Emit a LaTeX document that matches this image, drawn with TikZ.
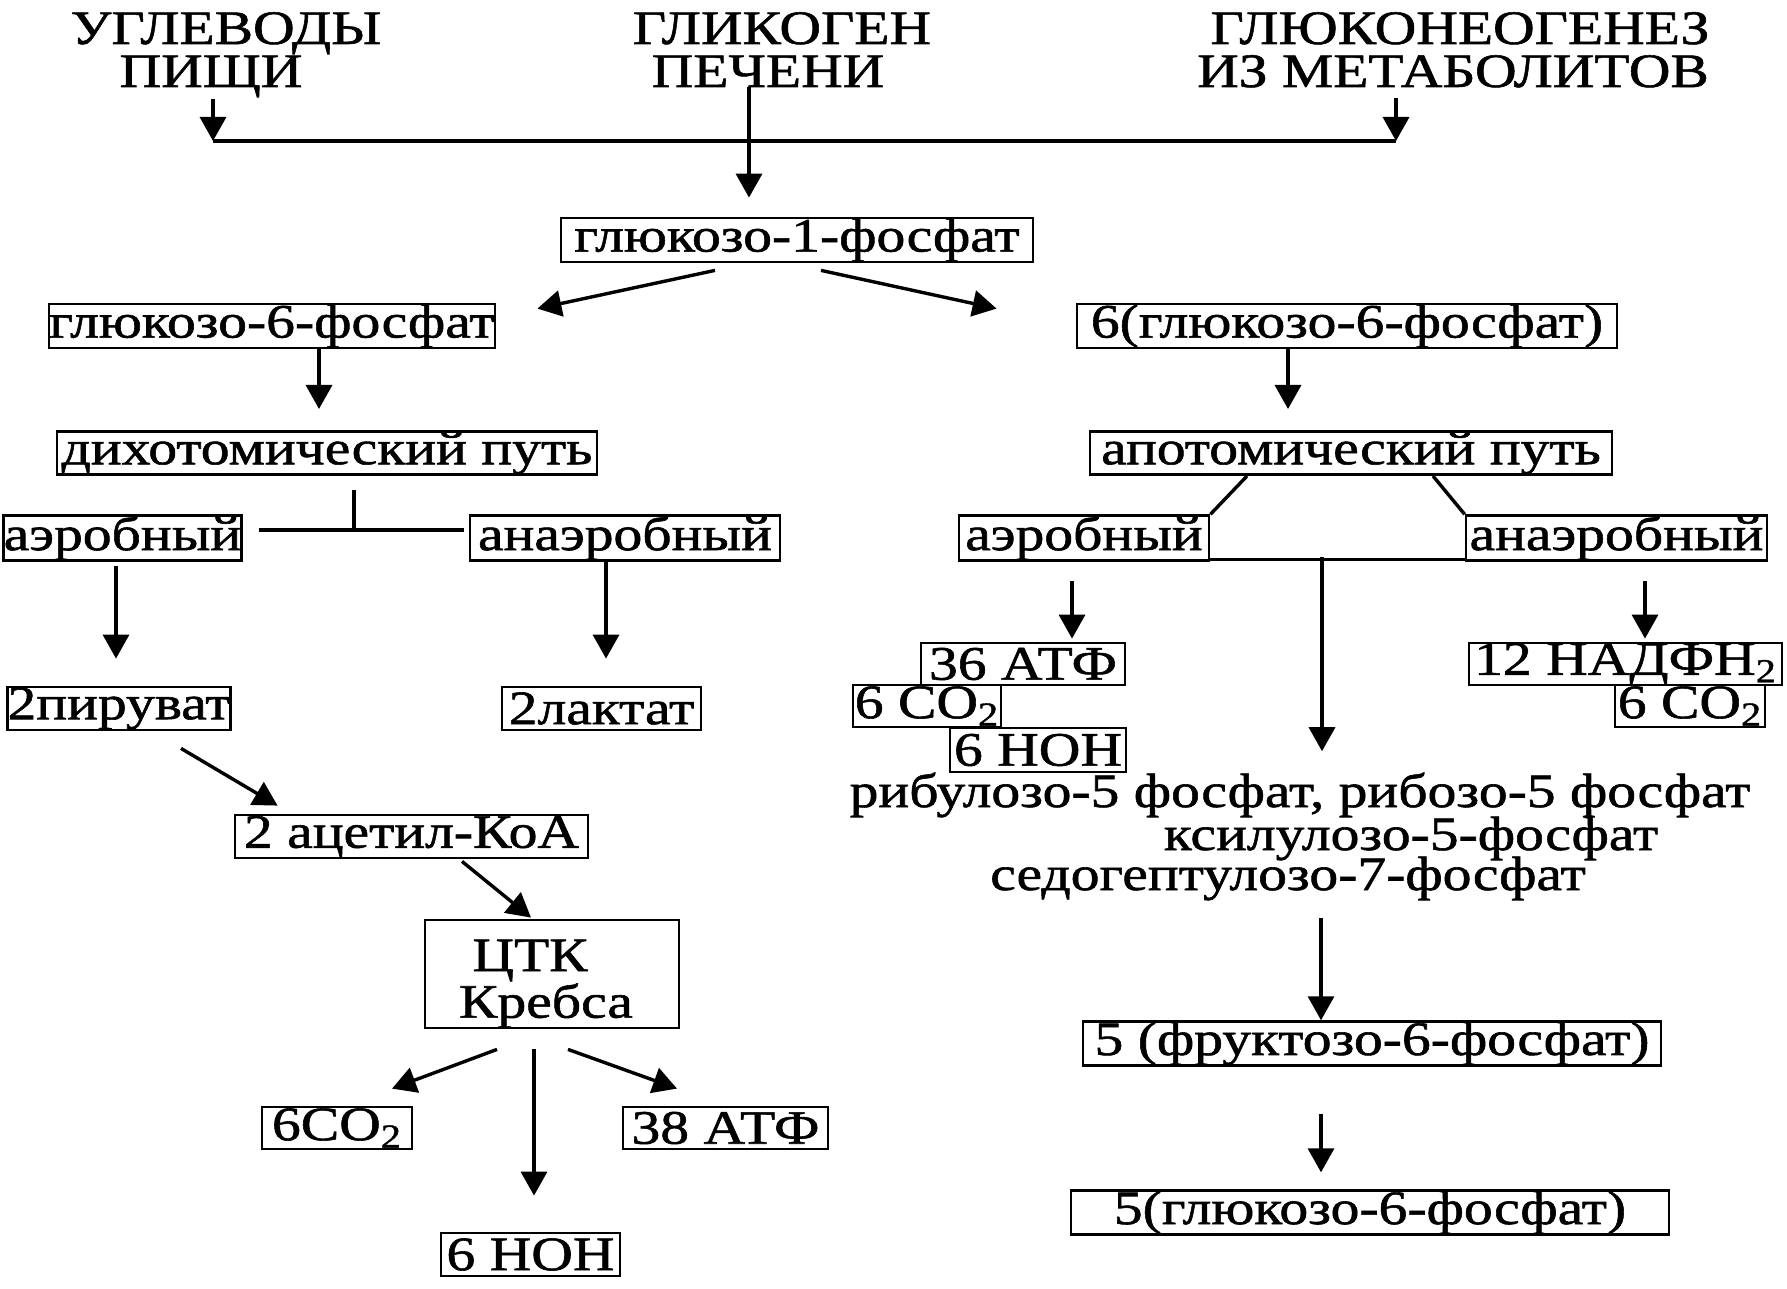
\documentclass[tikz,border=0pt]{standalone}
\usepackage{fontspec}
\setmainfont[FakeStretch=1.2,FakeBold=1.2]{Liberation Serif}
\usetikzlibrary{arrows.meta,calc}
\begin{document}
\begin{tikzpicture}[x=0.5pt,y=-0.5pt,
  every node/.append style={font=\fontsize{24}{25}\selectfont},
  txt/.style={inner sep=0pt, anchor=base},
  bx/.style={draw, line width=1.4pt, inner sep=0pt, align=center},
  ln/.style={line width=1.7pt},
  arr/.style={line width=1.7pt, -{Triangle[width=13pt,length=12pt]}}]
\useasboundingbox (0,0) rectangle (1787,1289);
% header
\node[txt] (h1a) at (226,44) {УГЛЕВОДЫ};
\node[txt] (h1b) at (211,87) {ПИЩИ};
\node[txt] (h2a) at (782,44) {ГЛИКОГЕН};
\node[txt] (h2b) at (768,87) {ПЕЧЕНИ};
\node[txt] (h3a) at (1460,44) {ГЛЮКОНЕОГЕНЕЗ};
\node[txt] (h3b) at (1453,87) {ИЗ МЕТАБОЛИТОВ};
% boxes
\node[bx, minimum width=236pt, minimum height=22pt] (g1p) at (797,240) {глюкозо-1-фосфат};
\node[bx, minimum width=223pt, minimum height=22pt] (g6pL) at (272,326) {глюкозо-6-фосфат};
\node[bx, minimum width=270pt, minimum height=21pt] (dich) at (327,453) {дихотомический путь};
\node[bx, minimum width=108.5pt, minimum height=21pt] (aerL) at (122.5,538) {аэробный};
\node[bx, minimum width=155pt, minimum height=21pt] (anaerL) at (625,538) {анаэробный};
\node[bx, minimum width=102pt, minimum height=21.5pt] (pyr) at (119,708.5) {2пируват};
\node[bx, minimum width=99.5pt, minimum height=21.5pt] (lac) at (601.5,708.5) {2лактат};
\node[bx, minimum width=176.5pt, minimum height=21.5pt] (acoa) at (411.5,836.5) {2 ацетил-КоА};
\node[bx, minimum width=127pt, minimum height=54pt, font=\fontsize{24}{20.5}\selectfont] (tca) at (552,974) {\rule{0pt}{25.5pt}ЦТК\hspace*{22pt}\\Кребса\hspace*{6pt}};
\node[bx, minimum width=75pt, minimum height=21pt] (co2L) at (337,1128) {6CO\textsubscript{2}};
\node[bx, minimum width=102.5pt, minimum height=21pt] (atpL) at (725.5,1128) {38 АТФ};
\node[bx, minimum width=89.5pt, minimum height=21.5pt] (honL) at (530.5,1254.5) {6 НОН};
\node[bx, minimum width=270pt, minimum height=22pt] (g6pR) at (1347,326) {6(глюкозо-6-фосфат)};
\node[bx, minimum width=261pt, minimum height=21pt] (apot) at (1351,453) {апотомический путь};
\node[bx, minimum width=125pt, minimum height=21pt] (aerR) at (1084,538) {аэробный};
\node[bx, minimum width=150.5pt, minimum height=21pt] (anaerR) at (1616.5,538) {анаэробный};
\node[bx, minimum width=102pt, minimum height=21pt] (atpR) at (1023,664) {36 АТФ};
\node[bx, minimum width=74pt, minimum height=21pt] (co2R1) at (927,706) {6 CO\textsubscript{2}};
\node[bx, minimum width=88pt, minimum height=22pt] (honR) at (1038,750) {6 НОН};
\node[bx, minimum width=156.5pt, minimum height=21pt] (nadph) at (1625.5,664) {12 НАДФН\textsubscript{2}};
\node[bx, minimum width=75pt, minimum height=21pt] (co2R2) at (1690,706) {6 CO\textsubscript{2}};
\node[bx, minimum width=289pt, minimum height=21.5pt] (f6p) at (1372,1043.5) {5 (фруктозо-6-фосфат)};
\node[bx, minimum width=299pt, minimum height=20.5pt] (g6p5) at (1370,1212.5) {5(глюкозо-6-фосфат)};
% plain texts
\node[txt] (rib) at (1300,807) {рибулозо-5 фосфат, рибозо-5 фосфат};
\node[txt] (ksi) at (1411,850) {ксилулозо-5-фосфат};
\node[txt] (sed) at (1288,890) {седогептулозо-7-фосфат};
% top connectors
\coordinate (jL) at (213,141);
\coordinate (jR) at (1396,141);
\coordinate (jM) at (749,141);
\draw[ln] (jL) -- (jR);
\draw[arr] ($(h1b.south -| jL)+(0,1)$) -- (jL);
\draw[arr] ($(h3b.south -| jR)+(0,10)$) -- (jR);
\draw[arr] (h2b.south -| jM) -- ($(g1p.north -| jM)+(0,-19)$);
\draw[arr] ($(g1p.south)+(-82,7)$) -- ($(g6pL.north east)+(41,6)$);
\draw[arr] ($(g1p.south)+(24,7)$) -- ($(g6pR.north west)+(-79,6)$);
% left branch
\draw[arr] ($(g6pL.south)+(47,0)$) -- ($(dich.north)+(-8,-21)$);
\coordinate (dj) at (354,530);
\draw[ln] ($(dich.south)+(27,14)$) -- (dj);
\draw[ln] ($(aerL.east)+(16,-8)$) -- ($(anaerL.west)+(-5,-8)$);
\draw[arr] ($(aerL.south)+(-6.5,4)$) -- ($(pyr.north)+(-3,-27)$);
\draw[arr] ($(anaerL.south)+(-19,0)$) -- ($(lac.north)+(4.5,-27)$);
\draw[arr] ($(pyr.south)+(62,17)$) -- ($(acoa.north west)+(44,-8)$);
\draw[arr] ($(acoa.south)+(50.5,2)$) -- ($(tca.north)+(-21,-1)$);
\draw[arr] ($(tca.south)+(-55,20)$) -- ($(co2L.north)+(55,-17)$);
\draw[arr] ($(tca.south)+(-18,20)$) -- ($(honL.north)+(3.5,-36)$);
\draw[arr] ($(tca.south)+(16,20)$) -- ($(atpL.north)+(-48.5,-17)$);
% right branch
\draw[arr] ($(g6pR.south)+(-59,0)$) -- ($(apot.north)+(-63,-21)$);
\draw[ln] ($(apot.south)+(-104,0)$) -- (aerR.north east);
\draw[ln] ($(apot.south)+(82,0)$) -- (anaerR.north west);
\draw[ln] ($(aerR.south east)+(0,-2)$) -- ($(anaerR.south west)+(0,-2)$);
\coordinate (am) at (1322,557);
\draw[arr] (am) -- ($(rib.north -| am)+(0,-21)$);
\draw[arr] ($(aerR.south)+(-12,19)$) -- ($(atpR.north)+(49,-3)$);
\draw[arr] ($(anaerR.south)+(28.5,19)$) -- ($(nadph.north)+(19.5,-3)$);
\draw[arr] ($(f6p.north)+(-51,-102)$) -- ($(f6p.north)+(-51,0)$);
\draw[arr] ($(f6p.south)+(-51,47)$) -- ($(g6p5.north)+(-49,-17)$);
\end{tikzpicture}
\end{document}
